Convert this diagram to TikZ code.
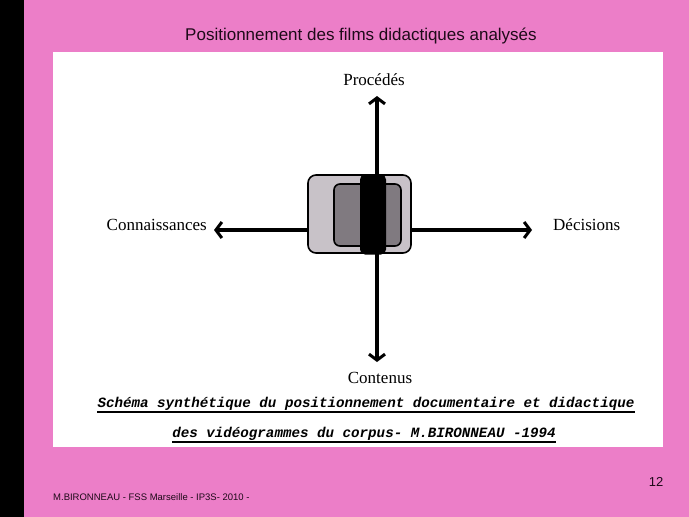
\documentclass[tikz,border=0pt]{standalone}
\usepackage{fontspec}
\setmainfont{Liberation Serif}
\newfontfamily\sansf{Liberation Sans}
\newfontfamily\monof{Liberation Mono}
\usetikzlibrary{arrows.meta}
\definecolor{slidepink}{RGB}{236,126,200}
\definecolor{lightbox}{RGB}{200,194,200}
\definecolor{darkbox}{RGB}{128,122,128}
\definecolor{titleink}{RGB}{30,10,25}
\begin{document}
\begin{tikzpicture}[x=1pt,y=-1pt,
  axis/.style={line width=3.4pt,{Straight Barb[length=6pt,width=16pt,line width=3pt]}-{Straight Barb[length=6pt,width=16pt,line width=3pt]}},
  lbl/.style={font=\fontsize{17}{20}\selectfont, inner sep=0pt},
  captext/.style={font=\monof\bfseries\itshape\fontsize{14.2}{16}\selectfont, inner sep=0pt},
  ul/.style={line width=1.8pt}]
\useasboundingbox (0,0) rectangle (689,517);
\fill[slidepink] (0,0) rectangle (689,517);
\fill[black] (0,0) rectangle (24,517);
\fill[white] (53,52) rectangle (663,447);
\node[font=\sansf\fontsize{17}{20}\selectfont, text=titleink, inner sep=0pt] (title) at (361,36) {Positionnement des films didactiques analysés};
% axes
\coordinate (top) at (377,96);
\coordinate (bot) at (377,362);
\coordinate (lft) at (214,230);
\coordinate (rgt) at (532,230);
\draw[axis] (bot) -- (top);
\draw[axis] (lft) -- (rgt);
% central boxes
\node[draw=black, line width=1.6pt, fill=lightbox, rounded corners=8pt, minimum width=103pt, minimum height=78pt, inner sep=0pt] (outer) at (359.5,214) {};
\node[draw=black, line width=1.6pt, fill=darkbox, rounded corners=6pt, minimum width=67pt, minimum height=62pt, inner sep=0pt] (inner) at (367.5,215) {};
\node[fill=black, rounded corners=5pt, minimum width=26pt, minimum height=80pt, inner sep=0pt] (bar) at (373,214.5) {};
% labels
\node[lbl] (proc) at (374,80) {Procédés};
\node[lbl, anchor=east] (conn) at (207,225) {Connaissances};
\node[lbl, anchor=west] (dec) at (553,225) {Décisions};
\node[lbl] (cont) at (380,378) {Contenus};
% caption
\node[captext] (cap1) at (366,404) {Schéma synthétique du positionnement documentaire et didactique};
\node[captext] (cap2) at (364,434) {des vidéogrammes du corpus- M.BIRONNEAU -1994};
\draw[ul] ([yshift=-4.5pt]cap1.base west) -- ([yshift=-4.5pt]cap1.base east);
\draw[ul] ([yshift=-4.5pt]cap2.base west) -- ([yshift=-4.5pt]cap2.base east);
% footer
\node[font=\sansf\fontsize{9.5}{11}\selectfont, anchor=west, inner sep=0pt, text=titleink] (foot) at (53,497) {M.BIRONNEAU - FSS Marseille - IP3S- 2010 -};
\node[font=\sansf\fontsize{13}{15}\selectfont, inner sep=0pt, text=titleink] (pnum) at (656,482) {12};
\end{tikzpicture}
\end{document}
